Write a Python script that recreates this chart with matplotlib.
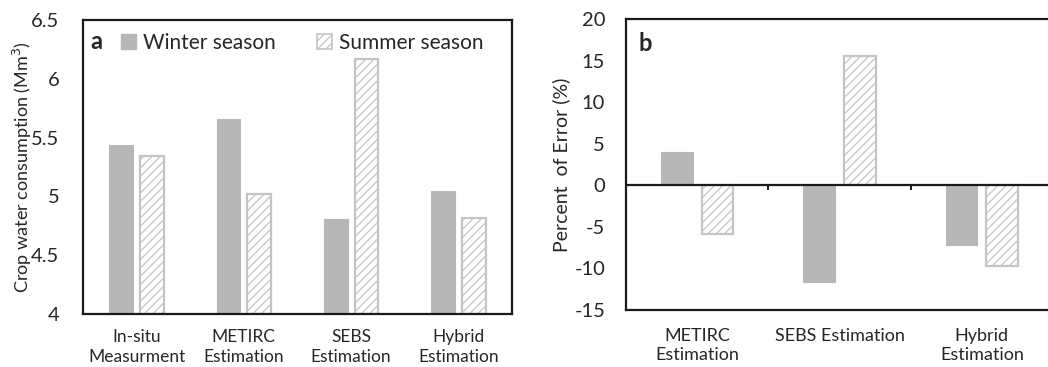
import matplotlib
matplotlib.use("Agg")
import matplotlib.pyplot as plt
import numpy as np
from matplotlib.patches import Patch

plt.rcParams['font.family'] = ['Lato', 'DejaVu Sans']
plt.rcParams['hatch.linewidth'] = 0.9

# Panel a: crop water consumption (Mm3)
methods_a = ["In-situ\nMeasurment", "METIRC\nEstimation", "SEBS\nEstimation", "Hybrid\nEstimation"]
winter_a = [5.44, 5.66, 4.805, 5.05]
summer_a = [5.34, 5.02, 6.17, 4.82]

# Panel b: percent of error relative to in-situ measurement
methods_b = ["METIRC\nEstimation", "SEBS Estimation", "Hybrid\nEstimation"]
winter_b = [4.0, -11.6, -7.2]
summer_b = [-5.9, 15.5, -9.7]

yticks_a = [4, 4.5, 5, 5.5, 6, 6.5]
yticklabels_a = ["4", "4.5", "5", "5.5", "6", "6.5"]
yticks_b = [-15, -10, -5, 0, 5, 10, 15, 20]

WINTER = "#b7b7b8"
SUMMER_EDGE = "#c4c4c4"
TEXT = "#262626"
bar_w = 0.222
offset = 0.143

fig = plt.figure(figsize=(10.48, 3.67), dpi=100)
ax1 = fig.add_axes([0.0792, 0.1444, 0.4093, 0.8011])
ax2 = fig.add_axes([0.5973, 0.1553, 0.4075, 0.7927])


def draw_pairs(ax, winter, summer, base=0):
    x = np.arange(len(winter))
    w = np.array(winter) - base
    s = np.array(summer) - base
    ax.bar(x - offset, w, bar_w, bottom=base, color=WINTER, edgecolor=WINTER,
           linewidth=0.8, zorder=2)
    ax.bar(x + offset, s, bar_w, bottom=base, facecolor="white",
           edgecolor=SUMMER_EDGE, hatch="////", linewidth=1.6, zorder=2)
    return x


# ---- panel a ----
x = draw_pairs(ax1, winter_a, summer_a, base=4)
ax1.set_xlim(-0.5, len(methods_a) - 0.5)
ax1.set_ylim(4, 6.5)
ax1.set_yticks(yticks_a)
ax1.set_yticklabels(yticklabels_a)
ax1.set_xticks(x)
ax1.set_xticklabels(methods_a, fontsize=12.5, color=TEXT, linespacing=1.35)
ax1.tick_params(axis='y', length=0, labelsize=14.5, pad=17, colors=TEXT)
ax1.tick_params(axis='x', length=0, pad=10.5)
for sp in ax1.spines.values():
    sp.set_linewidth(1.6)
    sp.set_color("#1a1a1a")
ax1.set_ylabel("Crop water consumption (Mm$^3$)", fontsize=13, color=TEXT, labelpad=-2)
ax1.text(0.018, 0.965, "a", transform=ax1.transAxes, fontsize=17, fontweight="bold",
         va="top", ha="left", color=TEXT)
handles = [Patch(facecolor=WINTER, edgecolor=WINTER, label="Winter season"),
           Patch(facecolor="white", edgecolor=SUMMER_EDGE, hatch="////", linewidth=1.2,
                 label="Summer season")]
ax1.legend(handles=handles, loc="upper left", bbox_to_anchor=(0.045, 1.02), ncol=2,
           frameon=False, fontsize=15, handlelength=0.7, handleheight=0.7,
           handletextpad=0.35, columnspacing=2.0, labelcolor=TEXT)

# ---- panel b ----
x = draw_pairs(ax2, winter_b, summer_b, base=0)
ax2.set_xlim(-0.5, len(methods_b) - 0.5)
ax2.set_ylim(-15, 20)
ax2.set_yticks(yticks_b)
ax2.set_yticklabels([str(v) for v in yticks_b])
ax2.tick_params(axis='y', length=0, labelsize=14.5, pad=15, colors=TEXT)
ax2.set_xticks(x)
ax2.set_xticklabels(methods_b, fontsize=13, color=TEXT, linespacing=1.25)
ax2.tick_params(axis='x', length=0, pad=13)
for sp in ax2.spines.values():
    sp.set_linewidth(1.6)
    sp.set_color("#1a1a1a")
ax2.axhline(0, color="#1a1a1a", linewidth=1.6, zorder=3)
# category separators on the zero line
for b in np.arange(0.5, len(methods_b) - 0.5, 1.0):
    ax2.plot([b, b], [0, -0.6], color="#1a1a1a", linewidth=1.4, zorder=3,
             solid_capstyle="butt")
ax2.set_ylabel("Percent  of Error (%)", fontsize=14, color=TEXT, labelpad=3)
ax2.text(0.03, 0.955, "b", transform=ax2.transAxes, fontsize=17, fontweight="bold",
         va="top", ha="left", color=TEXT)

fig.savefig("out.png", dpi=100, facecolor="white")
